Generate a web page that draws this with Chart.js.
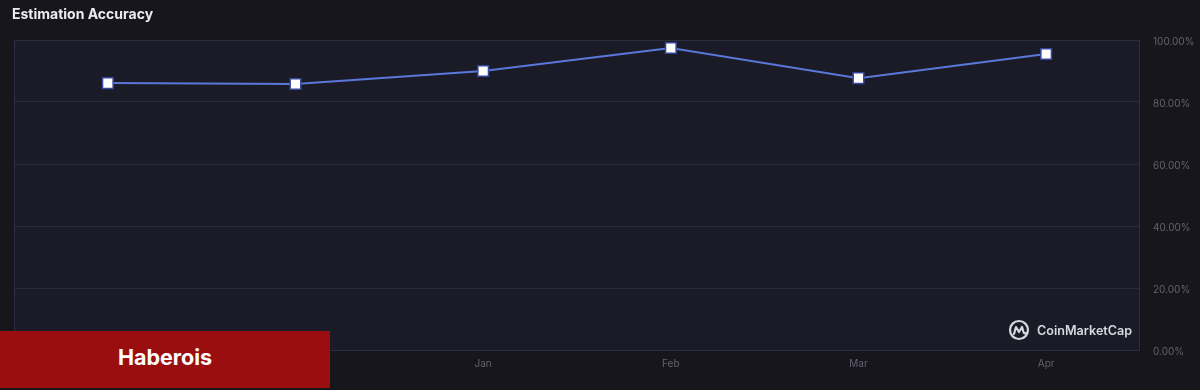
<!DOCTYPE html>
<html>
<head>
<meta charset="utf-8">
<script src="https://cdn.jsdelivr.net/npm/chart.js@4/dist/chart.umd.min.js"></script>
<style>
  html, body { margin:0; padding:0; background:#16161c; width:1200px; height:390px; overflow:hidden; font-family: Inter, "Noto Sans", sans-serif; }
  #wrap { position:absolute; left:0; top:0; width:1200px; height:390px; }
  #title { position:absolute; left:12px; top:5px; color:#ececf0; font: 700 14px Inter, sans-serif; }
  #cmc { position:absolute; left:1008px; top:319px; display:flex; align-items:center; color:#d8d8e0; font: 600 12.6px Inter, sans-serif; }
  #cmc svg { margin-right:7px; }
  #badge { position:absolute; left:0; top:331px; width:330px; height:57px; background:#9b0e10; color:#fff; font: 700 21.5px Inter, sans-serif; display:flex; align-items:center; justify-content:center; padding-right:0; box-sizing:border-box; }
  #badge span { position:relative; left:0; top:-3px; }
</style>
</head>
<body>
<div id="wrap"><canvas id="c" width="1200" height="390"></canvas></div>
<div id="title">Estimation Accuracy</div>
<div id="cmc">
  <svg width="22" height="22" viewBox="0 0 22 22"><circle cx="11" cy="11" r="9" fill="none" stroke="#d8d8e0" stroke-width="2.2"/><path d="M6 15 L8 8 L11 13 L14 8 L15.5 13 Q16 15 18 14" fill="none" stroke="#d8d8e0" stroke-width="2.2" stroke-linejoin="round" stroke-linecap="round"/></svg>
  <span>CoinMarketCap</span>
</div>
<div id="badge"><span>Haberois</span></div>
<script>
const categories = ["Nov", "Dec", "Jan", "Feb", "Mar", "Apr"];
const accuracy = [86.1, 85.8, 90.0, 97.4, 87.7, 95.5];
const yTicks = [0, 20, 40, 60, 80, 100];

const frame = {
  id: 'frame',
  beforeDraw(chart) {
    const {ctx, chartArea: a} = chart;
    ctx.save();
    ctx.fillStyle = '#1b1b27';
    ctx.fillRect(a.left, a.top, a.right - a.left, a.bottom - a.top);
    ctx.restore();
  },
  beforeDatasetsDraw(chart) {
    const {ctx, chartArea: a} = chart;
    ctx.save();
    ctx.strokeStyle = '#2c2c40';
    ctx.lineWidth = 1;
    ctx.strokeRect(a.left + 0.5, a.top + 0.5, a.right - a.left - 1, a.bottom - a.top);
    ctx.restore();
  }
};

new Chart(document.getElementById('c'), {
  type: 'line',
  data: {
    labels: categories,
    datasets: [{
      data: accuracy,
      borderColor: '#5a78dc',
      borderWidth: 2,
      tension: 0,
      pointStyle: 'rect',
      pointRadius: 7.5,
      pointBackgroundColor: '#ffffff',
      pointBorderColor: '#34489a',
      pointBorderWidth: 1.5,
      fill: false
    }]
  },
  options: {
    responsive: false,
    animation: false,
    devicePixelRatio: 1,
    layout: { padding: { left: 14, top: 40, right: 0, bottom: 0 } },
    plugins: { legend: { display: false }, tooltip: { enabled: false } },
    scales: {
      x: {
        offset: true,
        grid: { display: false, drawTicks: false },
        border: { display: false },
        ticks: { color: '#62626f', font: { family: 'Inter', size: 10 }, padding: 8, maxRotation: 0 },
        afterFit(s) { s.height = 40; }
      },
      y: {
        position: 'right',
        min: 0, max: 100,
        afterBuildTicks(s) { s.ticks = yTicks.map(v => ({ value: v })); },
        grid: { color: '#2a2a3c', drawTicks: false },
        border: { display: false },
        ticks: {
          color: '#62626f', font: { family: 'Inter', size: 10 }, padding: 13, crossAlign: 'near',
          labelOffset: 1.5,
          callback: v => v.toFixed(2) + '%'
        },
        afterFit(s) { s.width = 60; }
      }
    }
  },
  plugins: [frame]
});
</script>
</body>
</html>
